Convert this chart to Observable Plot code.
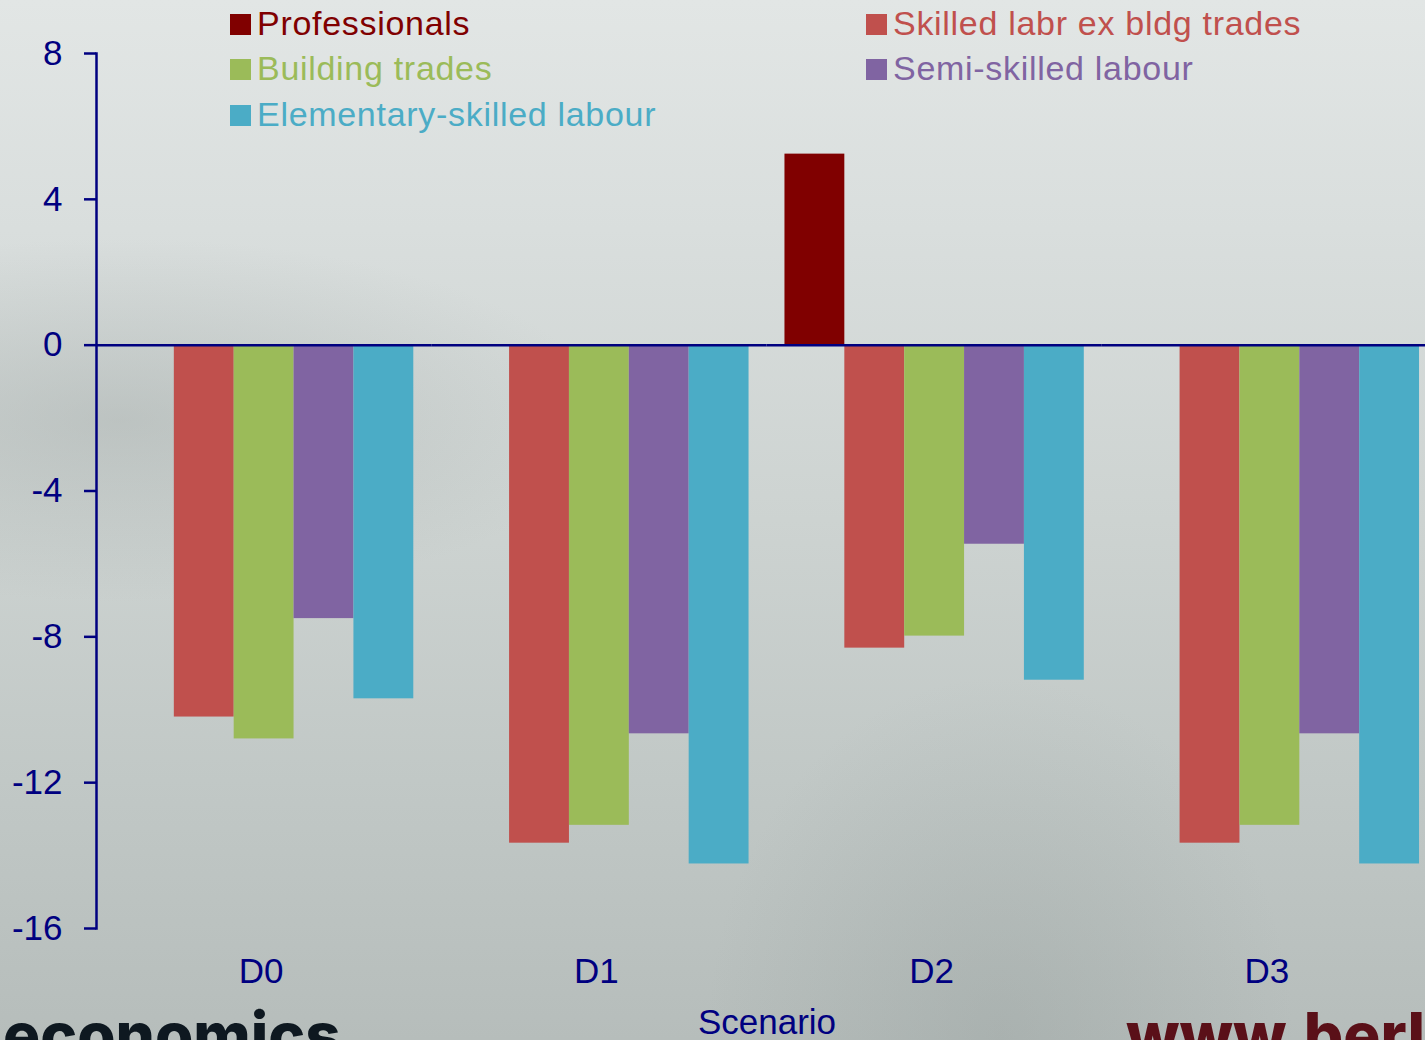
<!DOCTYPE html>
<html>
<head>
<meta charset="utf-8">
<script src="https://cdn.jsdelivr.net/npm/d3@7"></script>
<script src="https://cdn.jsdelivr.net/npm/@observablehq/plot@0.6"></script>
<style>
  html, body { margin: 0; padding: 0; width: 1425px; height: 1040px; overflow: hidden; }
  body {
    position: relative;
    font-family: "Liberation Sans", Arial, sans-serif;
    background:
      radial-gradient(ellipse 700px 260px at 120px 420px, rgba(150,158,156,0.35), rgba(150,158,156,0) 70%),
      radial-gradient(ellipse 420px 520px at 1000px 1040px, rgba(140,150,148,0.30), rgba(140,150,148,0) 70%),
      linear-gradient(to bottom, #e2e6e5 0%, #d9dedd 22%, #cdd3d1 50%, #c1c8c6 75%, #b6bdbb 100%);
  }
  #chart { position: absolute; left: 0; top: 0; width: 1437px; }
  #chart svg { max-width: none !important; }
  .leg { position: absolute; font-size: 34px; line-height: 34px; letter-spacing: 0.7px; white-space: nowrap; }
  .sw { position: absolute; width: 21px; height: 21px; }
  .wm { position: absolute; font-family: Inter, "Open Sans", sans-serif; font-weight: 800; font-size: 62px; line-height: 62px; white-space: nowrap; }
</style>
</head>
<body>
<div id="chart"></div>
<div id="legend"></div>
<div class="wm" style="left:3px; top:1004px; color:#0e1820;">economics</div>
<div class="wm" style="left:1126px; top:1004px; color:#5a1018;">www.berl.co.nz</div>
<script>
// ---- data ----
const scenarios = ["D0", "D1", "D2", "D3"];
const series = ["Professionals", "Skilled labr ex bldg trades", "Building trades", "Semi-skilled labour", "Elementary-skilled labour"];
const seriesColors = ["#800000", "#C0504D", "#9BBB59", "#8064A2", "#4BACC6"];
const professionals = [0, 0, 5.24, 0];
const skilledExBldg = [-10.2, -13.66, -8.31, -13.66];
const buildingTrades = [-10.8, -13.17, -7.98, -13.17];
const semiSkilled = [-7.5, -10.66, -5.46, -10.66];
const elementarySkilled = [-9.7, -14.23, -9.19, -14.23];
const yTicks = [8, 4, 0, -4, -8, -12, -16];
const xLabel = "Scenario";

const valuesBySeries = [professionals, skilledExBldg, buildingTrades, semiSkilled, elementarySkilled];
const data = [];
scenarios.forEach((sc, i) => {
  series.forEach((s, j) => data.push({scenario: sc, series: s, value: valuesBySeries[j][i]}));
});

const navy = "#000080";

const plot = Plot.plot({
  width: 1437,
  height: 1040,
  marginLeft: 96,
  marginRight: 0,
  marginTop: 53,
  marginBottom: 112,
  style: {background: "transparent", fontFamily: "'Liberation Sans', Arial, sans-serif", overflow: "visible", maxWidth: "none"},
  fx: {domain: scenarios, paddingInner: 0, paddingOuter: 0, round: false, label: xLabel},
  x: {domain: series, paddingInner: 0, paddingOuter: 0.3, round: false, axis: null},
  y: {domain: [-16, 8]},
  color: {domain: series, range: seriesColors},
  marks: [
    Plot.barY(data, {fx: "scenario", x: "series", y: "value", fill: "series"}),
    Plot.ruleY([0], {stroke: navy, strokeWidth: 2.5}),
    Plot.frame({anchor: "left", facetAnchor: "left", stroke: navy, strokeWidth: 2.5}),
    Plot.axisY({ticks: yTicks, tickSize: 12, tickPadding: 22, fontSize: 35, color: navy, strokeWidth: 2.5, label: null, tickFormat: d => String(d)}),
    Plot.axisFx({anchor: "bottom", tickSize: 0, tickPadding: 30, fontSize: 35, dx: -3, color: navy, label: null}),
    Plot.axisFx({anchor: "bottom", tickSize: 0, fontSize: 35, color: navy, ticks: [], label: xLabel, labelAnchor: "center", labelOffset: 105, labelArrow: "none"})
  ]
});
document.getElementById("chart").appendChild(plot);

// ---- legend (two columns, row-major) ----
const legend = document.getElementById("legend");
const colX = [230, 866];
const rowBaseline = [35, 80, 126];
series.forEach((s, i) => {
  const col = i % 2, row = Math.floor(i / 2);
  const sw = document.createElement("div");
  sw.className = "sw";
  sw.style.left = colX[col] + "px";
  sw.style.top = (rowBaseline[row] - 21) + "px";
  sw.style.background = seriesColors[i];
  legend.appendChild(sw);
  const t = document.createElement("div");
  t.className = "leg";
  t.style.left = (colX[col] + 27) + "px";
  t.style.top = (rowBaseline[row] - 29) + "px";
  t.style.color = seriesColors[i];
  t.textContent = s;
  legend.appendChild(t);
});
</script>
</body>
</html>
